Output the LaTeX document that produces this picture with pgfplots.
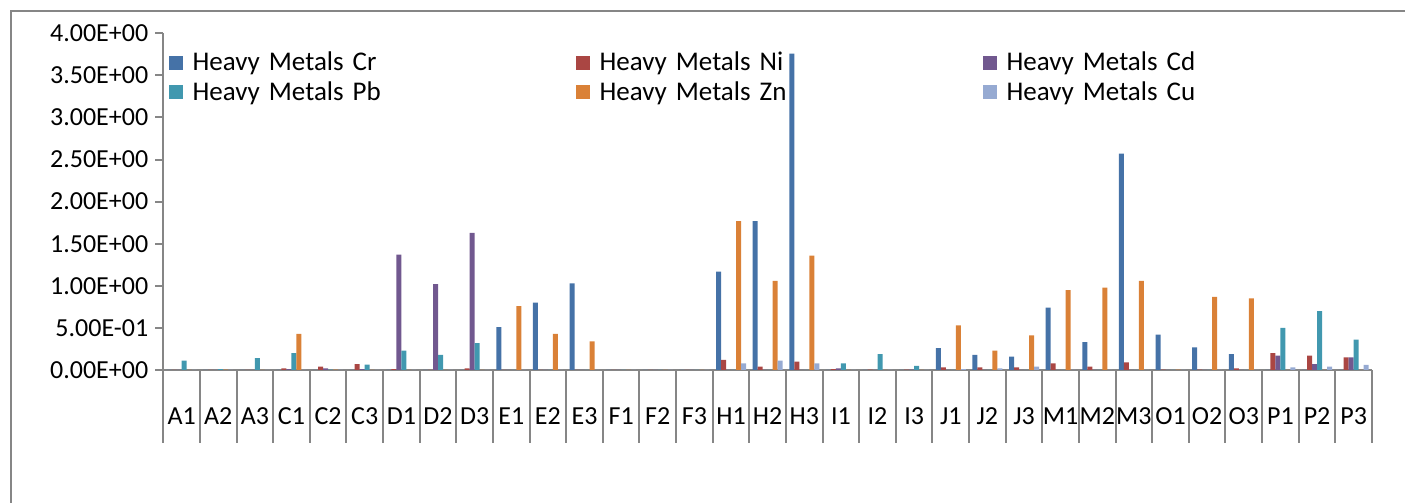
\documentclass[border=0pt]{standalone}
\usepackage{fontspec}
\setmainfont{Carlito}
\usepackage{pgfplots}
\pgfplotsset{compat=1.18}
\usepackage{pgfplotstable}

\definecolor{cCr}{RGB}{69,114,167}
\definecolor{cNi}{RGB}{170,70,67}
\definecolor{cCd}{RGB}{113,88,143}
\definecolor{cPb}{RGB}{65,152,175}
\definecolor{cZn}{RGB}{218,129,55}
\definecolor{cCu}{RGB}{150,170,210}
\definecolor{axgray}{RGB}{134,134,134}

\pgfplotstableread{
cat Cr Ni Cd Pb Zn Cu
A1 0 0 0 0.11 0 0
A2 0 0 0 0.01 0.005 0
A3 0 0 0 0.14 0 0
C1 0 0.02 0.01 0.20 0.43 0
C2 0 0.04 0.02 0.005 0.005 0
C3 0 0.07 0.01 0.065 0 0
D1 0 0.01 1.37 0.23 0 0
D2 0 0 1.02 0.18 0 0
D3 0 0.02 1.63 0.32 0 0
E1 0.51 0 0 0 0.76 0
E2 0.80 0 0 0 0.43 0
E3 1.03 0 0 0 0.34 0
F1 0 0 0 0 0 0
F2 0 0 0 0 0 0
F3 0 0 0 0 0 0
H1 1.17 0.12 0 0 1.77 0.08
H2 1.77 0.04 0 0 1.06 0.11
H3 3.76 0.10 0 0 1.36 0.08
I1 0 0.01 0.02 0.08 0 0
I2 0 0.005 0 0.19 0 0
I3 0 0.005 0.005 0.05 0 0
J1 0.26 0.03 0 0 0.53 0.01
J2 0.18 0.03 0 0 0.23 0.02
J3 0.16 0.03 0 0 0.41 0.04
M1 0.74 0.08 0 0 0.95 0
M2 0.33 0.04 0 0 0.98 0
M3 2.57 0.09 0 0 1.06 0
O1 0.42 0.005 0 0 0.005 0
O2 0.27 0.005 0 0 0.87 0
O3 0.19 0.02 0 0 0.85 0
P1 0 0.20 0.17 0.50 0 0.03
P2 0 0.17 0.07 0.70 0 0.04
P3 0 0.15 0.15 0.36 0 0.06
}\datatable

\pgfplotsset{sq legend/.style={legend image code/.code={\fill[##1] (0pt,-3.5pt) rectangle (7pt,3.5pt);}}}

\begin{document}
\begin{tikzpicture}
\path[use as bounding box] (0,0) rectangle (702.5pt,251.5pt);
\draw[axgray, line width=1pt] (5.5pt,-5pt) -- (5.5pt,246pt) -- (710pt,246pt);
\begin{axis}[
  at={(81.65pt,66.5pt)}, anchor=south west,
  scale only axis, width=604.35pt, height=168.35pt,
  xmin=-0.5, xmax=32.5, ymin=0, ymax=4,
  ybar=0pt, bar width=2.5pt,
  axis x line*=bottom, axis y line*=left,
  axis line style={draw=axgray, line width=1pt, -},
  major tick length=4pt,
  tick align=outside,
  ytick={0,0.5,...,4},
  yticklabels={0.00E+00,5.00E-01,1.00E+00,1.50E+00,2.00E+00,2.50E+00,3.00E+00,3.50E+00,4.00E+00},
  ytick style={draw=axgray, line width=1pt},
  xtick={0,...,32},
  xticklabels={A1,A2,A3,C1,C2,C3,D1,D2,D3,E1,E2,E3,F1,F2,F3,H1,H2,H3,I1,I2,I3,J1,J2,J3,M1,M2,M3,O1,O2,O3,P1,P2,P3},
  xtick style={draw=none},
  extra x ticks={-0.5,0.5,...,32.5},
  extra x tick labels={},
  extra x tick style={major tick length=36.5pt, xtick style={draw=axgray, line width=1pt}},
  yticklabel style={font=\fontsize{13}{15}\selectfont, text=black},
  xticklabel style={font=\fontsize{13}{15}\selectfont, text=black, anchor=center, yshift=-19pt},
  legend columns=3,
  legend style={draw=none, fill=none, inner sep=0pt, font=\fontsize{13.5}{15}\selectfont,
    at={(0.004,0.958)}, anchor=north west, row sep=0pt,
    /tikz/every odd column/.append style={column sep=3pt},
    /tikz/every even column/.append style={column sep=89.5pt}},
]
\addplot[fill=cCr, draw=none, sq legend] table[x expr=\coordindex, y=Cr] {\datatable};
\addlegendentry[text width=100pt, align=left]{Heavy Metals Cr}
\addplot[fill=cNi, draw=none, sq legend] table[x expr=\coordindex, y=Ni] {\datatable};
\addlegendentry[text width=100pt, align=left]{Heavy Metals Ni}
\addplot[fill=cCd, draw=none, sq legend] table[x expr=\coordindex, y=Cd] {\datatable};
\addlegendentry[text width=100pt, align=left]{Heavy Metals Cd}
\addplot[fill=cPb, draw=none, sq legend] table[x expr=\coordindex, y=Pb] {\datatable};
\addlegendentry[text width=100pt, align=left]{Heavy Metals Pb}
\addplot[fill=cZn, draw=none, sq legend] table[x expr=\coordindex, y=Zn] {\datatable};
\addlegendentry[text width=100pt, align=left]{Heavy Metals Zn}
\addplot[fill=cCu, draw=none, sq legend] table[x expr=\coordindex, y=Cu] {\datatable};
\addlegendentry[text width=100pt, align=left]{Heavy Metals Cu}
\end{axis}
\end{tikzpicture}
\end{document}
